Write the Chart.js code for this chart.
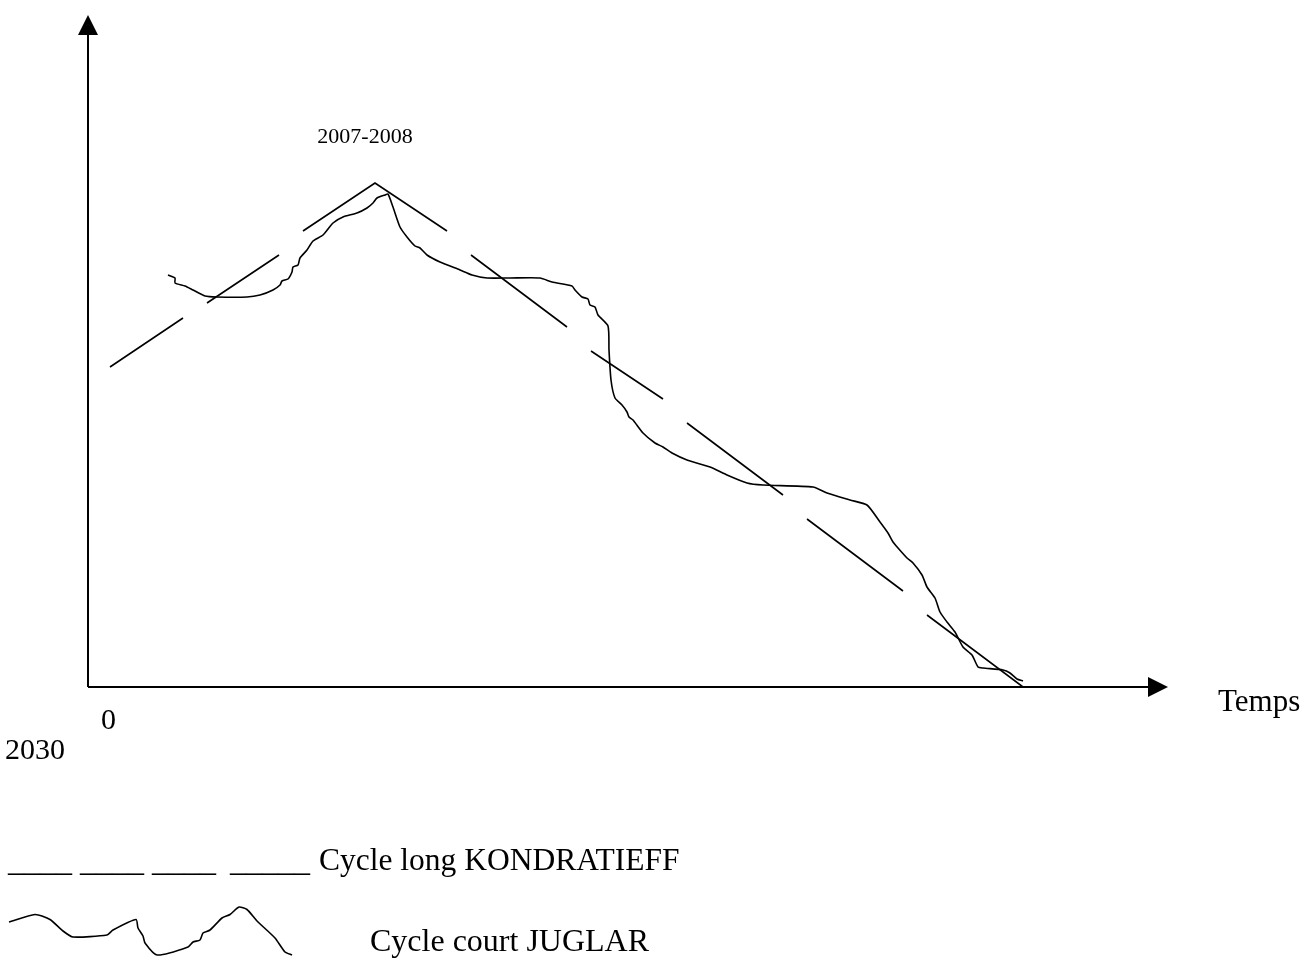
<!DOCTYPE html>
<html lang="fr">
<head>
    <meta charset="UTF-8">
    <script src="https://cdn.jsdelivr.net/npm/chart.js"></script>
    <title>Cycles Kondratieff / Juglar</title>
    <style>
        body { margin: 0; background: #fff; }
        canvas { display: block; }
    </style>
</head>
<body>
    <canvas id="cycleChart" width="1307" height="975" style="width:1307px;height:975px"></canvas>

<script>
    // Cycle long KONDRATIEFF : tirets (null = trou entre deux tirets)
    const kondX = [2.2, 9.5, null, 11.9, 19.1, null, 21.5, 28.7, 35.9, null, 38.3, 47.9, null,
        50.3, 57.5, null, 59.9, 69.5, null, 71.9, 81.5, null, 83.9, 93.5];
    const kondY = [32.0, 36.9, null, 38.4, 43.2, null, 45.6, 50.4, 45.6, null, 43.2, 36.0, null,
        33.6, 28.8, null, 26.4, 19.2, null, 16.8, 9.6, null, 7.2, 0.0];

    // Cycle court JUGLAR : courbe tracee a la main
    const juglarX = [8.0, 8.7, 8.7, 9.7, 10.5, 11.7, 12.9, 15.9, 17.2, 18.5, 19.2, 19.4, 20.0, 20.4, 20.5,
        21.0, 21.2, 21.9, 22.5, 23.5, 24.5, 25.5, 26.9, 27.9, 28.5, 28.9, 29.7, 30.0, 30.5, 31.2,
        31.9, 32.7, 33.2, 33.9, 35.2, 37.2, 38.4, 39.9, 42.2, 45.2, 46.4, 48.4, 48.7, 49.4, 50.0,
        50.2, 50.7, 51.0, 52.0, 52.1, 52.3, 52.7, 53.4, 53.9, 54.1, 54.5, 55.5, 56.7, 57.5, 58.4,
        59.9, 62.2, 63.9, 65.9, 67.5, 72.5, 73.9, 76.2, 77.9, 79.2, 80.0, 80.5, 81.0, 81.9, 82.5,
        83.4, 83.9, 84.7, 85.2, 85.9, 86.7, 87.5, 88.4, 89.0, 89.5, 91.5, 92.2, 92.9, 93.5];
    const juglarY = [41.2, 40.9, 40.4, 40.1, 39.7, 39.1, 39.0, 39.0, 39.2, 39.7, 40.2, 40.6, 40.8, 41.5, 42.0,
        42.2, 42.9, 43.7, 44.6, 45.2, 46.4, 47.0, 47.4, 47.9, 48.4, 48.9, 49.2, 49.3, 48.0, 46.0,
        45.0, 44.1, 43.9, 43.2, 42.5, 41.7, 41.2, 40.9, 40.9, 40.9, 40.5, 40.1, 39.7, 39.0, 38.8,
        38.2, 38.0, 37.2, 36.1, 33.7, 30.7, 28.9, 28.2, 27.5, 27.0, 26.7, 25.4, 24.4, 24.0, 23.4,
        22.7, 22.0, 21.2, 20.4, 20.2, 20.0, 19.4, 18.7, 18.2, 16.5, 15.4, 14.5, 13.9, 12.9, 12.4,
        11.2, 10.0, 8.9, 7.5, 6.5, 5.5, 4.0, 3.2, 2.0, 1.9, 1.7, 1.4, 0.8, 0.6];

    // petit trace de legende pour le cycle court
    const iconX = [-7.9, -5.3, -3.8, -2.5, -1.5, 1.9, 2.5, 4.8, 5.0, 5.5, 5.7, 6.9, 10.0, 10.5, 11.2,
        11.5, 12.2, 13.4, 14.2, 15.1, 15.9, 16.9, 18.7, 19.7, 20.4];
    const iconY = [-23.5, -22.75, -23.25, -24.4, -25.0, -24.8, -24.3, -23.25, -24.1, -24.9, -25.6, -26.8, -26.0, -25.5, -25.3,
        -24.6, -24.3, -23.1, -22.75, -22.0, -22.25, -23.4, -25.1, -26.5, -26.8];

    const xMin = -8.8;
    const xMax = 108;
    const yMax = 67.2;

    const toPoints = (xs, ys) => xs.map((x, i) => ({ x: x, y: ys[i] }));

    // axes avec fleches + textes
    const axesPlugin = {
        id: 'axesPlugin',
        afterDatasetsDraw(chart) {
            const ctx = chart.ctx;
            const xs = chart.scales.x;
            const ys = chart.scales.y;
            const x0 = xs.getPixelForValue(0);
            const y0 = ys.getPixelForValue(0);
            const xEnd = xs.getPixelForValue(xMax);
            const yEnd = ys.getPixelForValue(yMax);

            ctx.save();
            ctx.strokeStyle = '#000';
            ctx.fillStyle = '#000';
            ctx.lineWidth = 2;

            ctx.beginPath();
            ctx.moveTo(x0, y0);
            ctx.lineTo(x0, yEnd + 18);
            ctx.moveTo(x0, y0);
            ctx.lineTo(xEnd - 18, y0);
            ctx.stroke();

            // fleche verticale
            ctx.beginPath();
            ctx.moveTo(x0, yEnd);
            ctx.lineTo(x0 - 10, yEnd + 20);
            ctx.lineTo(x0 + 10, yEnd + 20);
            ctx.closePath();
            ctx.fill();

            // fleche horizontale
            ctx.beginPath();
            ctx.moveTo(xEnd, y0);
            ctx.lineTo(xEnd - 20, y0 - 10);
            ctx.lineTo(xEnd - 20, y0 + 10);
            ctx.closePath();
            ctx.fill();

            ctx.textBaseline = 'middle';
            ctx.font = '22px "Liberation Serif"';
            ctx.textAlign = 'center';
            ctx.fillText('2007-2008', 365, 137);

            ctx.textAlign = 'left';
            ctx.font = '31px "Liberation Serif"';
            ctx.fillText('Temps', 1218, 703);
            ctx.font = '30px "Liberation Serif"';
            ctx.fillText('0', 101, 721);
            ctx.fillText('2030', 5, 751);

            ctx.font = '32px "Liberation Serif"';
            ctx.fillText('____ ____ ____ ', 8, 863);
            ctx.fillText('_____', 230, 863);
            ctx.fillText('Cycle court JUGLAR', 370, 943);
            ctx.font = '31.5px "Liberation Serif"';
            ctx.fillText('Cycle long KONDRATIEFF', 319, 862);
            ctx.restore();
        }
    };

    const ctx = document.getElementById('cycleChart').getContext('2d');
    new Chart(ctx, {
        type: 'line',
        data: {
            datasets: [
                {
                    label: 'Cycle long KONDRATIEFF',
                    data: toPoints(kondX, kondY),
                    borderColor: '#000',
                    borderWidth: 1.6,
                    pointRadius: 0,
                    spanGaps: false,
                    tension: 0
                },
                {
                    label: 'Cycle court JUGLAR',
                    data: toPoints(juglarX, juglarY),
                    borderColor: '#000',
                    borderWidth: 1.6,
                    pointRadius: 0,
                    tension: 0.2
                },
                {
                    label: 'legende JUGLAR',
                    data: toPoints(iconX, iconY),
                    borderColor: '#000',
                    borderWidth: 1.6,
                    pointRadius: 0,
                    tension: 0.2,
                    clip: false
                }
            ]
        },
        options: {
            responsive: false,
            animation: false,
            layout: {
                padding: { left: 0, top: 15, right: 1307 - (xMax - xMin) * 10, bottom: 975 - 687 }
            },
            scales: {
                x: { type: 'linear', min: xMin, max: xMax, display: false },
                y: { type: 'linear', min: 0, max: yMax, display: false }
            },
            plugins: {
                legend: { display: false },
                tooltip: { enabled: false }
            }
        },
        plugins: [axesPlugin]
    });
</script>
</body>
</html>
